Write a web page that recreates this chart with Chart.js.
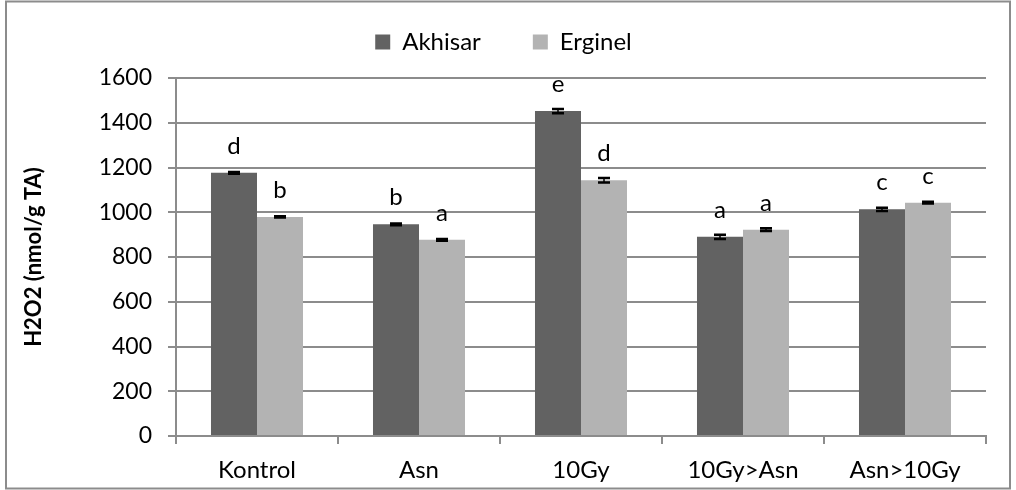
<!DOCTYPE html>
<html>
<head>
<meta charset="utf-8">
<script src="https://cdn.jsdelivr.net/npm/chart.js@4/dist/chart.umd.min.js"></script>
<style>
  html, body { margin: 0; padding: 0; background: #ffffff; }
  #wrap { position: relative; width: 1016px; height: 490px; }
  canvas { display: block; }
</style>
</head>
<body>
<div id="wrap"><canvas id="chart" width="1016" height="490"></canvas></div>
<script>
// Treatments on the x axis
const categories = ['Kontrol', 'Asn', '10Gy', '10Gy>Asn', 'Asn>10Gy'];

// H2O2 content (nmol/g TA) per cultivar
const akhisar = [1176, 946, 1452, 890, 1013];
const erginel = [979, 877, 1143, 922, 1043];

// Standard errors
const akhisarErr = [4, 4, 9, 9, 7];
const erginelErr = [3, 4, 10, 6, 4];

// Significance letters above each bar
const akhisarLetters = ['d', 'b', 'e', 'a', 'c'];
const erginelLetters = ['b', 'a', 'd', 'a', 'c'];

// Y axis range and step
const yMin = 0;
const yMax = 1600;
const yStep = 200;

const FONT = 'Lato, "Open Sans", sans-serif';
const GRID = '#8c8c8c';

const errorBars = {
  id: 'errorBars',
  afterDatasetsDraw(chart) {
    const ctx = chart.ctx;
    const y = chart.scales.y;
    const sets = [[akhisar, akhisarErr], [erginel, erginelErr]];
    ctx.save();
    ctx.strokeStyle = '#000000';
    sets.forEach(([vals, errs], di) => {
      const meta = chart.getDatasetMeta(di);
      meta.data.forEach((bar, i) => {
        const top = y.getPixelForValue(vals[i] + errs[i]);
        const bot = y.getPixelForValue(vals[i] - errs[i]);
        ctx.lineWidth = 1.5;
        ctx.beginPath();
        ctx.moveTo(bar.x, top);
        ctx.lineTo(bar.x, bot);
        ctx.stroke();
        ctx.lineWidth = 2.5;
        ctx.beginPath();
        ctx.moveTo(bar.x - 6, top);
        ctx.lineTo(bar.x + 6, top);
        ctx.moveTo(bar.x - 6, bot);
        ctx.lineTo(bar.x + 6, bot);
        ctx.stroke();
      });
    });
    ctx.restore();
  }
};

const letters = {
  id: 'letters',
  afterDatasetsDraw(chart) {
    const ctx = chart.ctx;
    const y = chart.scales.y;
    const sets = [[akhisar, akhisarLetters], [erginel, erginelLetters]];
    ctx.save();
    ctx.fillStyle = '#000000';
    ctx.font = '24px ' + FONT;
    ctx.textAlign = 'center';
    ctx.textBaseline = 'alphabetic';
    sets.forEach(([vals, labs], di) => {
      const meta = chart.getDatasetMeta(di);
      meta.data.forEach((bar, i) => {
        ctx.fillText(labs[i], bar.x, y.getPixelForValue(vals[i]) - 19);
      });
    });
    ctx.restore();
  }
};

const frame = {
  id: 'frame',
  beforeDraw(chart) {
    const ctx = chart.ctx;
    ctx.save();
    ctx.fillStyle = '#ffffff';
    ctx.fillRect(0, 0, chart.width, chart.height);
    ctx.strokeStyle = '#8c8c8c';
    ctx.lineWidth = 2;
    ctx.strokeRect(6, 1.5, 1004, 487);
    ctx.restore();
  }
};

const legendPlacement = {
  id: 'legendPlacement',
  beforeInit(chart) {
    const fit = chart.legend.fit;
    chart.legend.fit = function () {
      fit.call(chart.legend);
      this.height = 78;
    };
  },
  afterLayout(chart) {
    chart.legend.top = -22;
    chart.legend.left = 0;
    chart.legend.right = 1007;
  }
};

new Chart(document.getElementById('chart'), {
  type: 'bar',
  data: {
    labels: categories,
    datasets: [
      { label: 'Akhisar', data: akhisar, backgroundColor: '#626262', borderWidth: 0,
        categoryPercentage: 0.568, barPercentage: 1.0 },
      { label: 'Erginel', data: erginel, backgroundColor: '#b3b3b3', borderWidth: 0,
        categoryPercentage: 0.568, barPercentage: 1.0 }
    ]
  },
  options: {
    responsive: false,
    animation: false,
    devicePixelRatio: 1,
    layout: { padding: { left: 0, right: 30, top: 0, bottom: 0 } },
    plugins: {
      legend: {
        position: 'top',
        align: 'center',
        labels: {
          boxWidth: 15,
          boxHeight: 15,
          padding: 52,
          color: '#000000',
          font: { family: FONT, size: 24 }
        }
      },
      tooltip: { enabled: false }
    },
    scales: {
      x: {
        grid: { display: true, drawOnChartArea: false, drawTicks: true, tickLength: 8,
                color: GRID, lineWidth: 2, offset: true },
        border: { display: true, color: GRID, width: 2 },
        ticks: { color: '#000000', padding: 12, font: { family: FONT, size: 24 },
                 maxRotation: 0, autoSkip: false },
        afterFit(scale) { scale.height = 54; }
      },
      y: {
        min: yMin,
        max: yMax,
        grid: { color: GRID, lineWidth: 2, tickLength: 8, drawTicks: true },
        border: { display: true, color: GRID, width: 2 },
        ticks: { stepSize: yStep, color: '#000000', padding: 16,
                 font: { family: FONT, size: 23 },
                 callback: (v) => String(v) },
        title: {
          display: true,
          text: 'H2O2 (nmol/g TA)',
          color: '#000000',
          font: { family: FONT, size: 22, weight: 'bold' },
          padding: { top: 21, bottom: 0 }
        },
        afterFit(scale) { scale.width = 176; }
      }
    }
  },
  plugins: [frame, legendPlacement, errorBars, letters]
});
</script>
</body>
</html>
